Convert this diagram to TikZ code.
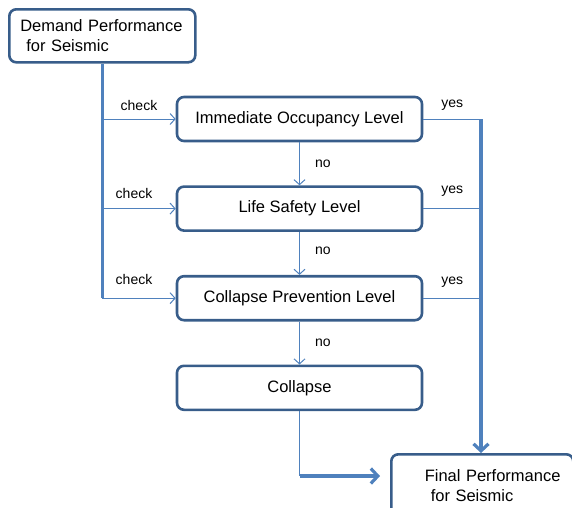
\documentclass[tikz,border=0pt]{standalone}
\usepackage{fontspec}
\setmainfont{Liberation Sans}
\usetikzlibrary{arrows.meta, positioning}

\definecolor{boxline}{HTML}{385D8A}
\definecolor{flowline}{HTML}{4F81BD}

\begin{document}
\begin{tikzpicture}[
    x=1pt, y=-1pt,
    node distance=43pt,
    level_block/.style={
            rectangle,
            rounded corners=7pt,
            draw=boxline,
            line width=2.6pt,
            minimum width=245pt,
            minimum height=44pt,
            font=\fontsize{16.5}{20}\selectfont
        },
    end_block/.style={
            level_block,
            align=left,
            inner xsep=11pt,
            minimum width=0pt
        },
    label_text/.style={font=\fontsize{14}{16}\selectfont, inner sep=1pt},
    thin_line/.style={draw=flowline, line width=1pt},
    thin_arrow/.style={thin_line, -{Straight Barb[length=5pt, width=11pt]}},
    thick_line/.style={draw=flowline, line width=3.2pt},
    thick_arrow/.style={thick_line, -{Straight Barb[length=7pt, width=15pt]}},
    ]

    \useasboundingbox (0,0) rectangle (572,507);

    % --- Input ---
    \node (demand) [end_block, anchor=north west, text width=164pt, minimum height=53pt] at (8,8)
        {Demand Performance\\\hspace*{6pt}for Seismic};

    % --- Levels ---
    \node (ioc) [level_block] at (299.5,119) {Immediate Occupancy Level};
    \node (lsl) [level_block, below=of ioc] {Life Safety Level};
    \node (cpl) [level_block, below=of lsl] {Collapse Prevention Level};
    \node (collapse) [level_block, below=of cpl] {Collapse};

    % --- Output ---
    \node (final) [end_block, anchor=north west, text width=165pt, inner xsep=8.5pt, minimum height=62pt] at (390,453)
        {\hspace*{25pt}Final Performance\\\hspace*{31pt}for Seismic};

    \coordinate (yes_bus) at (481,0);
    \coordinate (final_in) at (380,476);

    % --- Check arrows ---
    \draw[thick_line] (demand.south) -- (demand.south |- cpl.west);
    \draw[thin_arrow] (demand.south |- ioc.west) -- node[label_text, above=7pt] (check_ioc) {check} (ioc.west);
    \draw[thin_arrow] (demand.south |- lsl.west) -- node[label_text, above=8pt, xshift=-5pt] (check_lsl) {check} (lsl.west);
    \draw[thin_arrow] (demand.south |- cpl.west) -- node[label_text, above=12pt, xshift=-5pt] (check_cpl) {check} (cpl.west);

    % --- No arrows ---
    \draw[thin_arrow] (ioc) -- node[label_text, right=14pt] (no_ioc) {no} (lsl);
    \draw[thin_arrow] (lsl) -- node[label_text, right=14pt, yshift=3pt] (no_lsl) {no} (cpl);
    \draw[thin_arrow] (cpl) -- node[label_text, right=14pt] (no_cpl) {no} (collapse);

    % --- Yes arrows ---
    \draw[thin_line] (ioc) -- node[label_text, above=7pt] (yes_ioc) {yes} (ioc.east -| yes_bus);
    \draw[thin_line] (lsl) -- node[label_text, above=11pt] (yes_lsl) {yes} (lsl.east -| yes_bus);
    \draw[thin_line] (cpl) -- node[label_text, above=9pt] (yes_cpl) {yes} (cpl.east -| yes_bus);
    \draw[thick_arrow] (ioc.east -| yes_bus) -- (yes_bus |- final.north);

    % --- Collapse to final ---
    \draw[thin_line] (collapse) -- (collapse.south |- final_in);
    \draw[thick_arrow] (collapse.south |- final_in) -- (final_in);

\end{tikzpicture}
\end{document}
